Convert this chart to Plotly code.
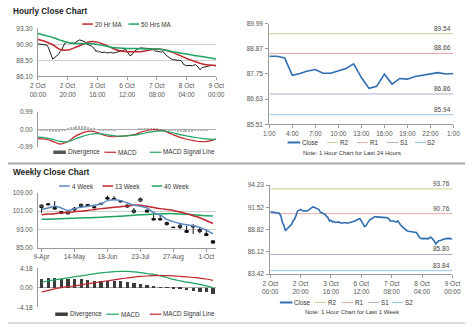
import plotly.graph_objects as go

# ---------------- data ----------------
# hourly closes, 2 Oct 00:00 .. 9 Oct 00:00 (trading hours)
hourly_close = [
    90.99, 90.95, 90.92, 90.90, 90.87, 90.85, 90.80, 90.47, 89.68, 89.30,
    88.69, 88.90, 89.10, 89.22, 89.45, 89.87, 90.10, 90.55, 91.06, 91.15,
    91.26, 91.15, 91.06, 91.10, 91.06, 91.15, 91.26, 91.40, 91.58, 91.52,
    91.46, 91.40, 91.26, 90.95, 90.87, 90.75, 90.67, 90.45, 90.28, 89.87,
    89.95, 89.75, 89.82, 89.68, 89.72, 89.75, 89.65, 89.60, 89.66, 89.70,
    89.66, 89.60, 89.68, 89.72, 89.78, 89.82, 89.87, 89.98, 90.08, 90.16,
    89.87, 89.50, 89.20, 89.28, 89.68, 89.90, 90.05, 90.20, 90.35, 90.40,
    90.36, 90.36, 90.32, 90.33, 90.30, 90.28, 90.28, 90.26, 90.16, 89.87,
    89.90, 89.87, 89.80, 89.75, 89.87, 89.55, 89.35, 89.15, 89.00, 88.75,
    88.69, 88.62, 88.57, 88.52, 88.49, 88.50, 88.49, 88.30, 87.90, 87.80,
    87.70, 87.75, 87.78, 87.72, 87.70, 87.85, 87.88, 87.70, 87.45, 87.10,
    87.30, 87.48, 87.50, 87.58, 87.62, 87.70, 87.72, 87.78, 87.75, 87.70,
    87.68,
]
hour_idx = list(range(len(hourly_close)))
hour_ticks = [0, 20, 40, 60, 80, 100, 120]
hour_ticktext = ["2 Oct<br>00:00", "2 Oct<br>20:00", "3 Oct<br>16:00", "6 Oct<br>12:00",
                 "7 Oct<br>08:00", "8 Oct<br>04:00", "9 Oct<br>00:00"]

# moving averages, sampled every 5 hours
ma_idx = list(range(0, 121, 5))
ma20 = [91.65, 91.35, 90.85, 90.15, 90.05, 90.45, 90.90, 91.30, 91.25, 90.85,
        90.35, 89.95, 89.80, 89.80, 89.85, 90.05, 90.20, 90.10, 89.75, 89.30,
        88.80, 88.40, 88.00, 87.80, 87.75]
ma50 = [92.55, 92.25, 91.95, 91.55, 91.20, 91.05, 91.05, 91.05, 90.90, 90.70,
        90.45, 90.35, 90.30, 90.28, 90.25, 90.22, 90.20, 90.05, 89.85, 89.65,
        89.45, 89.25, 89.08, 88.90, 88.72]

# hourly MACD
h_macd = [-0.53, -0.56, -0.68, -0.83, -0.70, -0.40, -0.20, -0.11, -0.18, -0.35,
          -0.42, -0.40, -0.36, -0.30, -0.14, -0.04, -0.03, -0.09, -0.27, -0.44,
          -0.56, -0.64, -0.70, -0.67, -0.54]
h_signal = [-0.44, -0.48, -0.57, -0.68, -0.70, -0.55, -0.40, -0.28, -0.24, -0.28,
            -0.35, -0.39, -0.37, -0.33, -0.25, -0.16, -0.10, -0.09, -0.18, -0.29,
            -0.37, -0.45, -0.51, -0.55, -0.57]
div_idx = list(range(0, 121, 2))
h_div = [-0.03, -0.04, -0.05, -0.08, -0.12, -0.15, -0.16, -0.14, -0.10, -0.04,
         0.05, 0.12, 0.17, 0.20, 0.22, 0.22, 0.20, 0.16, 0.10, 0.04,
         -0.02, -0.05, -0.07, -0.08, -0.07, -0.05, -0.03, -0.02, 0.00, 0.02,
         0.02, -0.01, 0.01, 0.03, 0.05, 0.07, 0.09, 0.10, 0.09, 0.07,
         0.04, 0.02, 0.00, -0.02, -0.04, -0.07, -0.09, -0.11, -0.13, -0.15,
         -0.16, -0.15, -0.13, -0.10, -0.07, -0.05, -0.04, -0.03, -0.02, -0.01,
         0.00]

# last 24 hours
day_close = [88.54, 88.54, 88.46, 87.69, 87.77, 87.88, 87.95, 87.78, 87.78, 87.88,
             87.99, 88.20, 87.59, 87.11, 87.20, 87.74, 87.30, 87.55, 87.52, 87.64,
             87.70, 87.78, 87.81, 87.75, 87.77]
day_idx = list(range(len(day_close)))
day_ticks = [0, 3, 6, 9, 12, 15, 18, 21, 24]
day_ticktext = ["1:00", "4:00", "7:00", "10:00", "13:00", "16:00", "19:00", "22:00", "1:00"]
day_levels = {"R2": 89.54, "R1": 88.66, "S1": 86.86, "S2": 85.94}
week_levels = {"R2": 93.76, "R1": 90.76, "S1": 85.80, "S2": 83.84}

# weekly candles, 9-Apr .. 8-Oct
wk_open = [102.6, 104.2, 102.6, 100.8, 99.8, 101.5, 103.0, 103.9, 102.9, 103.9,
           107.0, 106.6, 105.5, 103.6, 100.5, 105.4, 101.4, 97.8, 97.7, 95.1,
           94.0, 93.8, 92.5, 94.0, 92.0, 91.1, 88.0]
wk_high = [104.0, 104.6, 105.3, 101.0, 100.8, 102.8, 104.3, 104.1, 103.1, 104.7,
           107.8, 107.6, 105.7, 104.0, 102.4, 107.0, 101.8, 99.9, 99.3, 96.4,
           94.1, 95.3, 94.6, 95.3, 93.9, 93.1, 88.2]
wk_low = [100.3, 103.6, 101.7, 99.8, 99.6, 100.9, 102.8, 103.0, 102.3, 103.7,
          105.6, 105.8, 104.9, 102.5, 99.9, 105.0, 100.4, 97.0, 96.9, 94.6,
          93.7, 93.1, 91.5, 91.0, 91.3, 90.1, 86.8]
wk_close = [103.6, 103.8, 101.9, 100.0, 100.6, 102.3, 104.0, 103.2, 102.5, 104.4,
            106.3, 106.1, 105.1, 102.8, 101.4, 106.4, 100.6, 97.1, 97.2, 96.0,
            93.8, 94.8, 91.7, 94.5, 92.9, 90.3, 87.0]
week_idx = list(range(len(wk_close)))
week_ticks = [0, 5, 10, 15, 20, 25]
week_ticktext = ["9-Apr", "14-May", "18-Jun", "23-Jul", "27-Aug", "1-Oct"]

ma4w = [101.7, 102.4, 103.1, 102.4, 101.3, 102.1, 102.7, 103.1, 103.6, 104.1,
        105.6, 106.0, 105.6, 104.6, 103.6, 103.1, 102.4, 100.3, 99.3, 97.4,
        96.4, 95.6, 95.0, 94.6, 93.9, 92.7, 91.0]
ma13w = [99.4, 99.7, 99.9, 100.3, 100.5, 100.7, 101.0, 101.3, 101.7, 102.1,
         102.4, 102.7, 102.9, 103.3, 103.6, 103.6, 103.1, 102.6, 102.1, 101.7,
         101.3, 100.6, 99.9, 99.0, 98.1, 96.9, 95.6]
ma40w = [97.4, 97.5, 97.6, 97.7, 97.8, 97.9, 98.0, 98.1, 98.2, 98.3,
         98.5, 98.6, 98.8, 99.0, 99.2, 99.4, 99.5, 99.7, 99.8, 99.9,
         99.9, 99.8, 99.6, 99.4, 99.2, 99.0, 98.9]

# weekly MACD
w_macd = [1.19, 1.45, 1.70, 1.92, 2.12, 2.35, 2.55, 2.76, 2.98, 3.18,
          3.32, 3.45, 3.50, 3.49, 3.40, 3.25, 3.05, 2.85, 2.55, 2.20,
          1.80, 1.50, 1.22, 0.98, 0.72, 0.40, 0.02]
w_signal = [-0.90, -0.55, -0.22, 0.05, 0.25, 0.42, 0.62, 0.85, 1.05, 1.28,
            1.50, 1.70, 1.92, 2.10, 2.28, 2.42, 2.52, 2.58, 2.62, 2.60,
            2.56, 2.45, 2.32, 2.20, 2.08, 1.88, 1.60]
w_div = [1.88, 2.02, 2.02, 1.88, 1.74, 1.74, 1.74, 1.60, 1.50, 1.46,
         1.46, 1.40, 1.32, 1.19, 0.90, 0.69, 0.49, 0.21, 0.07, -0.05,
         -0.12, -0.35, -0.55, -0.75, -0.90, -1.04, -1.45]

# ---------------- styling ----------------
W, H = 474, 327
FONT = "Liberation Sans, Arial, sans-serif"
RED = "#c1272d"
GREEN = "#1fa463"
BLUE = "#2f6db3"
LIGHTBLUE = "#5a88c0"
GRID = "#cfcfcf"
AXIS = "#9a9a9a"
TICKFONT = dict(family=FONT, size=6.5, color="#555555")
LEVEL_COLORS = {"R2": "#cdcd96", "R1": "#e6a9a9", "S1": "#b3abc9", "S2": "#93c9e4"}


def xd(x0, x1):
    return [x0 / W, x1 / W]


def yd(y0, y1):
    return [1 - y1 / H, 1 - y0 / H]


def px(x):
    return x / W


def py(y):
    return 1 - y / H


def fmt(vals):
    return ["%.2f" % v for v in vals]


fig = go.Figure()

# hourly close chart
fig.add_trace(go.Scatter(x=hour_idx, y=hourly_close, mode="lines", xaxis="x", yaxis="y",
                         line=dict(color="#1b1b1b", width=1)))
fig.add_trace(go.Scatter(x=ma_idx, y=ma20, mode="lines", xaxis="x", yaxis="y",
                         line=dict(color=RED, width=1.5, shape="spline")))
fig.add_trace(go.Scatter(x=ma_idx, y=ma50, mode="lines", xaxis="x", yaxis="y",
                         line=dict(color=GREEN, width=1.5, shape="spline")))

# hourly MACD
fig.add_trace(go.Bar(x=div_idx, y=h_div, xaxis="x2", yaxis="y2", width=0.9,
                     marker=dict(color="#b5b5b5", line=dict(width=0))))
fig.add_trace(go.Scatter(x=ma_idx, y=h_macd, mode="lines", xaxis="x2", yaxis="y2",
                         line=dict(color=RED, width=1.2, shape="spline")))
fig.add_trace(go.Scatter(x=ma_idx, y=h_signal, mode="lines", xaxis="x2", yaxis="y2",
                         line=dict(color=GREEN, width=1.2, shape="spline")))

# last 24 hours with pivot levels
for name, val in day_levels.items():
    fig.add_trace(go.Scatter(x=[day_idx[0], day_idx[-1]], y=[val, val], mode="lines",
                             xaxis="x3", yaxis="y3", line=dict(color=LEVEL_COLORS[name], width=1)))
fig.add_trace(go.Scatter(x=day_idx, y=day_close, mode="lines", xaxis="x3", yaxis="y3",
                         line=dict(color=BLUE, width=1.6)))

# weekly candles and moving averages
fig.add_trace(go.Scatter(x=week_idx, y=ma40w, mode="lines", xaxis="x4", yaxis="y4",
                         line=dict(color=GREEN, width=1.5, shape="spline")))
fig.add_trace(go.Scatter(x=week_idx, y=ma13w, mode="lines", xaxis="x4", yaxis="y4",
                         line=dict(color=RED, width=1.5, shape="spline")))
fig.add_trace(go.Scatter(x=week_idx, y=ma4w, mode="lines", xaxis="x4", yaxis="y4",
                         line=dict(color=LIGHTBLUE, width=1.5, shape="spline")))
fig.add_trace(go.Candlestick(x=week_idx, open=wk_open, high=wk_high, low=wk_low, close=wk_close,
                             xaxis="x4", yaxis="y4", whiskerwidth=0,
                             increasing=dict(line=dict(color="#111111", width=1), fillcolor="white"),
                             decreasing=dict(line=dict(color="#111111", width=1), fillcolor="#111111")))

# weekly MACD
fig.add_trace(go.Bar(x=week_idx, y=w_div, xaxis="x5", yaxis="y5", width=0.5,
                     marker=dict(color="#3c3c3c", line=dict(width=0))))
fig.add_trace(go.Scatter(x=week_idx, y=w_macd, mode="lines", xaxis="x5", yaxis="y5",
                         line=dict(color=GREEN, width=1.2, shape="spline")))
fig.add_trace(go.Scatter(x=week_idx, y=w_signal, mode="lines", xaxis="x5", yaxis="y5",
                         line=dict(color=RED, width=1.2, shape="spline")))

# last week with pivot levels
for name, val in week_levels.items():
    fig.add_trace(go.Scatter(x=[hour_idx[0], hour_idx[-1]], y=[val, val], mode="lines",
                             xaxis="x6", yaxis="y6", line=dict(color=LEVEL_COLORS[name], width=1)))
fig.add_trace(go.Scatter(x=hour_idx, y=hourly_close, mode="lines", xaxis="x6", yaxis="y6",
                         line=dict(color=BLUE, width=1.6)))

fig.update_traces(showlegend=False, hoverinfo="skip")


def xaxis(dom, rng, tickvals=None, ticktext=None, anchor="y", line=True):
    d = dict(domain=dom, range=rng, anchor=anchor, showgrid=False, zeroline=False,
             showline=line, linecolor=AXIS, linewidth=1, tickfont=TICKFONT, fixedrange=True)
    if tickvals is None:
        d.update(showticklabels=False, ticks="")
    else:
        d.update(tickvals=tickvals, ticktext=ticktext, ticks="outside", ticklen=3,
                 tickcolor=AXIS, tickwidth=1)
    return d


def yaxis(dom, rng, tickvals, anchor, grid=True, ticklen=0):
    return dict(domain=dom, range=rng, anchor=anchor, tickvals=tickvals, ticktext=fmt(tickvals),
                showgrid=grid, gridcolor=GRID, gridwidth=1, zeroline=False,
                showline=True, linecolor=AXIS, linewidth=1,
                ticks="outside" if ticklen else "", ticklen=ticklen, tickcolor=AXIS,
                ticklabelstandoff=3 if not ticklen else 1,
                tickfont=TICKFONT, fixedrange=True)


layout = dict(
    width=W, height=H, margin=dict(l=0, r=0, t=0, b=0),
    paper_bgcolor="white", plot_bgcolor="white", showlegend=False,
    font=dict(family=FONT, size=6.5, color="#444444"),
    bargap=0,
    xaxis=xaxis(xd(31, 216), [0, 120], hour_ticks, hour_ticktext, "y"),
    yaxis=yaxis(yd(25, 74), [86.10, 93.30], [86.10, 88.50, 90.90, 93.30], "x"),
    xaxis2=xaxis(xd(31, 216), [0, 120], None, None, "y2", line=False),
    yaxis2=yaxis(yd(110, 146), [-0.99, 0.99], [-0.99, 0.00, 0.99], "x2"),
    xaxis3=xaxis(xd(271, 462), [0, 24], day_ticks, day_ticktext, "y3"),
    yaxis3=yaxis(yd(20, 123), [85.51, 89.99], [85.51, 86.63, 87.75, 88.87, 89.99], "x3",
                 grid=False, ticklen=3),
    xaxis4=xaxis(xd(31, 216), [-0.55, 26.5], week_ticks, week_ticktext, "y4"),
    yaxis4=yaxis(yd(193, 249), [85.0, 109.0], [85.0, 93.0, 101.0, 109.0], "x4"),
    xaxis5=xaxis(xd(31, 216), [-0.55, 26.5], None, None, "y5", line=False),
    yaxis5=yaxis(yd(270, 310), [-4.18, 4.18], [-4.18, 0.00, 4.18], "x5"),
    xaxis6=xaxis(xd(272, 461), [0, 120], hour_ticks, hour_ticktext, "y6"),
    yaxis6=yaxis(yd(185, 276), [83.42, 94.23], [83.42, 86.12, 88.82, 91.52, 94.23], "x6",
                 grid=False, ticklen=3),
)
layout["xaxis4"]["rangeslider"] = dict(visible=False)
# darker zero line on the MACD panels
for k in ("yaxis2", "yaxis5"):
    layout[k].update(zeroline=True, zerolinecolor="#a8a8a8", zerolinewidth=1)
fig.update_layout(**layout)

shapes = []
annotations = []

# section titles and divider
for text, y in (("Hourly Close Chart", 8), ("Weekly Close Chart", 172)):
    annotations.append(dict(text="<b>%s</b>" % text, x=px(4), y=py(y), xref="paper", yref="paper",
                            xanchor="left", yanchor="middle", showarrow=False, borderpad=0,
                            font=dict(family=FONT, size=8.2, color="#222222")))
shapes.append(dict(type="line", xref="paper", yref="paper", x0=0, x1=1, y0=py(163), y1=py(163),
                   line=dict(color="#a8a8a8", width=2)))
shapes.append(dict(type="line", xref="paper", yref="paper", x0=0, x1=1, y0=py(326), y1=py(326),
                   line=dict(color="#dcdcdc", width=2)))


def legend(items, y):
    """items: (x0, x1, label, color, thickness) in pixels"""
    for x0, x1, label, color, thick in items:
        shapes.append(dict(type="line", xref="paper", yref="paper", x0=px(x0), x1=px(x1),
                           y0=py(y), y1=py(y), line=dict(color=color, width=thick)))
        annotations.append(dict(text=label, x=px(x1 + 1), y=py(y), xref="paper", yref="paper",
                                xanchor="left", yanchor="middle", showarrow=False, borderpad=0,
                                font=dict(family=FONT, size=6.3, color="#333333")))


legend([(77, 88, "20 Hr MA", RED, 1.5), (125, 136, "50 Hrs MA", GREEN, 1.5)], 20.5)
legend([(47, 60, "Divergence", "#555555", 3.5), (100, 112, "MACD", RED, 1.2),
        (147, 159, "MACD Signal Line", GREEN, 1.2)], 151.5)
legend([(53, 64, "4 Week", LIGHTBLUE, 1.5), (98, 109, "13 Week", RED, 1.5),
        (149, 160, "40 Week", GREEN, 1.5)], 186)
legend([(49, 62, "Divergence", "#3c3c3c", 3.5), (102, 115, "MACD", GREEN, 1.2),
        (147, 159, "MACD Signal Line", RED, 1.2)], 317)
legend([(290, 303, "Close", BLUE, 2), (331, 342, "R2", LEVEL_COLORS["R2"], 1),
        (362, 373, "R1", LEVEL_COLORS["R1"], 1), (393, 405, "S1", LEVEL_COLORS["S1"], 1),
        (422, 433, "S2", LEVEL_COLORS["S2"], 1)], 141.5)
legend([(282, 295, "Close", BLUE, 2), (318, 330, "R2", LEVEL_COLORS["R2"], 1),
        (346, 358, "R1", LEVEL_COLORS["R1"], 1), (374, 385, "S1", LEVEL_COLORS["S1"], 1),
        (398, 410, "S2", LEVEL_COLORS["S2"], 1)], 305)

for text, y in (("Note: 1 Hour Chart for Last 24 Hours", 152),
                ("Note: 1 Hour Chart for Last 1 Week", 315)):
    annotations.append(dict(text=text, x=px(357), y=py(y), xref="paper", yref="paper",
                            xanchor="center", yanchor="middle", showarrow=False,
                            font=dict(family=FONT, size=6, color="#333333")))

# pivot level value labels
for levels, xr, yr, xmax in ((day_levels, "x3", "y3", day_idx[-1]),
                             (week_levels, "x6", "y6", hour_idx[-1])):
    for name, val in levels.items():
        annotations.append(dict(text="%.2f" % val, x=xmax, y=val, xref=xr, yref=yr,
                                xanchor="right", yanchor="bottom", yshift=0, showarrow=False,
                                font=dict(family=FONT, size=6.5, color="#444444")))

fig.update_layout(shapes=shapes, annotations=annotations)
fig.write_html("out.html")
